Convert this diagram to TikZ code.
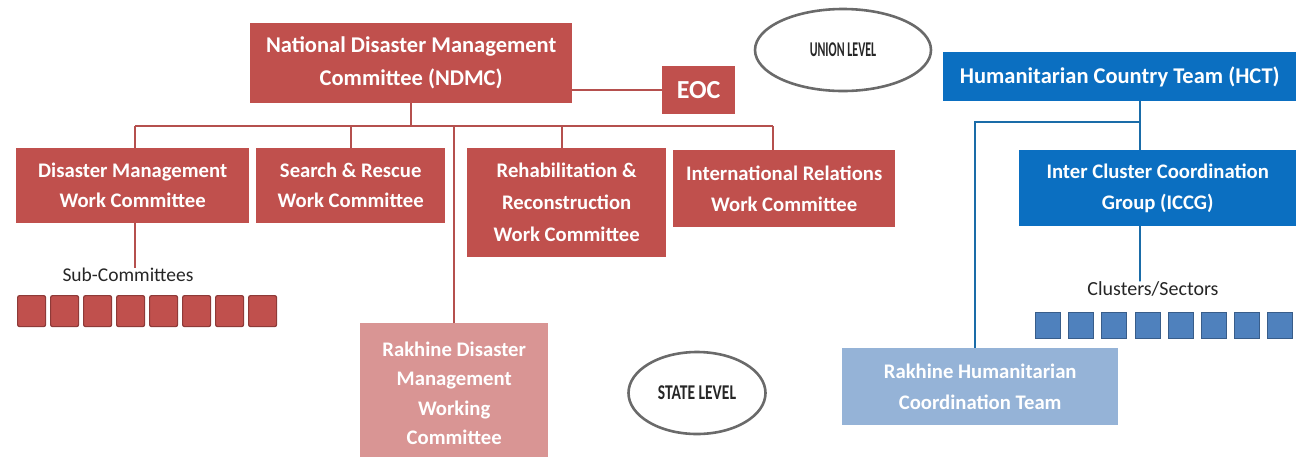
\documentclass[tikz,border=0pt]{standalone}
\usepackage{fontspec}
\setmainfont{Carlito}
\usetikzlibrary{shapes.geometric}
\definecolor{redfill}{HTML}{C0504D}
\definecolor{redline}{HTML}{B5504E}
\definecolor{redborder}{HTML}{8E3A38}
\definecolor{pinkfill}{HTML}{D99594}
\definecolor{bluefill}{HTML}{0B6FC1}
\definecolor{blueline}{HTML}{1A6CA8}
\definecolor{lightblue}{HTML}{95B3D7}
\definecolor{sqblue}{HTML}{4F81BD}
\definecolor{sqblueborder}{HTML}{385D8A}
\definecolor{ellgray}{HTML}{6A6A6A}
\tikzset{
  box/.style={anchor=north west, inner sep=0pt, align=center, text=white,
    font=\fontsize{20.7}{31.5}\selectfont\bfseries},
  bigtext/.style={font=\fontsize{22.5}{33}\selectfont\bfseries},
  redbox/.style={box, fill=redfill},
  pinkbox/.style={box, fill=pinkfill},
  bluebox/.style={box, fill=bluefill},
  lbluebox/.style={box, fill=lightblue},
  redconn/.style={draw=redline, line width=2.2pt},
  blueconn/.style={draw=blueline, line width=2.2pt},
  redsq/.style={anchor=north west, fill=redfill, draw=redborder, line width=1.2pt,
    rounded corners=2pt, minimum width=28pt, minimum height=31pt, inner sep=0pt},
  bluesq/.style={anchor=north west, fill=sqblue, draw=sqblueborder, line width=1pt,
    minimum width=25pt, minimum height=26pt, inner sep=0pt},
  level/.style={ellipse, draw=ellgray, line width=2.6pt, inner sep=0pt,
    font=\fontsize{21}{23}\selectfont\bfseries, text=black!85},
  plain/.style={inner sep=0pt, font=\fontsize{19.5}{22}\selectfont, text=black!85}
}
\begin{document}
\begin{tikzpicture}[x=1pt, y=-1pt]
\useasboundingbox (0,0) rectangle (1298,456);
% red side
\node[redbox, bigtext, minimum width=322pt, minimum height=80pt] (ndmc) at (250,23) {National Disaster Management\\Committee (NDMC)};
\node[redbox, font=\fontsize{26}{30}\selectfont\bfseries, minimum width=73pt, minimum height=48pt] (eoc) at (662,66) {EOC};
\node[redbox, font=\fontsize{20.7}{30}\selectfont\bfseries, minimum width=233pt, minimum height=75pt] (dm) at (16,148) {Disaster Management\\Work Committee};
\node[redbox, font=\fontsize{20.7}{30}\selectfont\bfseries, minimum width=189pt, minimum height=75pt] (sr) at (256,148) {Search \& Rescue\\Work Committee};
\node[redbox, font=\fontsize{20.7}{32}\selectfont\bfseries, minimum width=199pt, minimum height=109pt] (rr) at (467,148) {Rehabilitation \&\\Reconstruction\\Work Committee};
\node[redbox, minimum width=222pt, minimum height=77pt] (ir) at (673,150) {International Relations\\Work Committee};
\node[pinkbox, minimum width=188pt, minimum height=140pt, font=\fontsize{20.7}{29.5}\selectfont\bfseries] (rdm) at (360,323) {Rakhine Disaster\\Management\\Working\\Committee};
\node[plain] (subc) at (128,275) {Sub-Committees};
\foreach \i in {0,...,7} {
  \node[redsq] (rs\i) at ({17+33*\i},295) {};
}
\coordinate (bL) at (135,126);
\coordinate (bR) at (773,126);
\draw[redconn] (ndmc.south) -- (ndmc.south |- bL);
\draw[redconn] (bL) -- (bR);
\draw[redconn] (bL) -- (bL |- dm.north);
\draw[redconn] (sr.north) -- (sr.north |- bL);
\coordinate (rrT) at (562,126);
\draw[redconn] (rrT) -- (rrT |- rr.north);
\draw[redconn] (bR) -- (bR |- ir.north);
\draw[redconn] (rdm.north) -- (rdm.north |- bL);
\draw[redconn] (ndmc.east |- eoc.west) -- (eoc.west);
\draw[redconn] (bL |- dm.south) -- (bL |- subc.north) -- ++(0,-1);
% levels
\node[level, minimum width=176pt, minimum height=82pt] (union) at (843,50) {\scalebox{0.57}[1]{UNION LEVEL}};
\node[level, minimum width=137pt, minimum height=82pt] (state) at (697,393) {\scalebox{0.74}[1]{STATE LEVEL}};
% blue side
\node[bluebox, bigtext, minimum width=353pt, minimum height=49pt] (hct) at (943,52) {Humanitarian Country Team (HCT)};
\node[bluebox, minimum width=277pt, minimum height=76pt] (iccg) at (1019,150) {Inter Cluster Coordination\\Group (ICCG)};
\node[lbluebox, minimum width=276pt, minimum height=77pt] (rhct) at (842,348) {Rakhine Humanitarian\\Coordination Team};
\node[plain, font=\fontsize{20}{22}\selectfont] (clus) at (1153,289) {Clusters/Sectors};
\foreach \i in {0,...,7} {
  \node[bluesq] (bs\i) at ({1035+33.2*\i},312) {};
}
\coordinate (hv) at (1140,122);
\coordinate (hl) at (975,122);
\draw[blueconn] (hv |- hct.south) -- (hv |- iccg.north);
\draw[blueconn] (hv) -- (hl) -- (hl |- rhct.north);
\draw[blueconn] (hv |- iccg.south) -- (hv |- clus.north) -- ++(0,-1);
\end{tikzpicture}
\end{document}
